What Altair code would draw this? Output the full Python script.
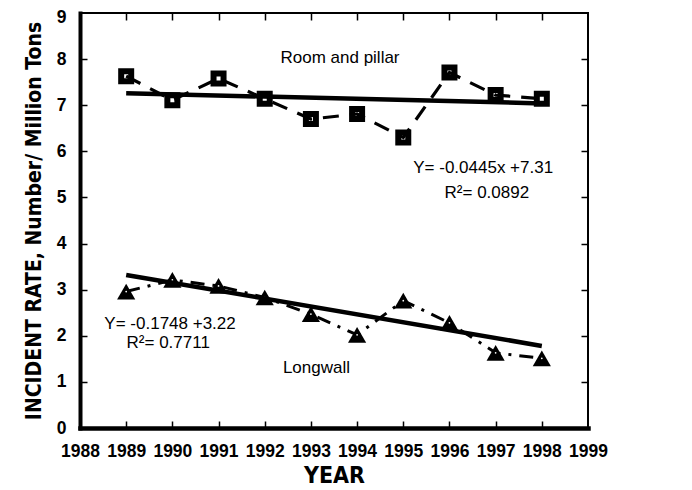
import altair as alt
import pandas as pd

# ---- data ----
years = [1989, 1990, 1991, 1992, 1993, 1994, 1995, 1996, 1997, 1998]
room_rate = [7.63, 7.11, 7.58, 7.14, 6.70, 6.81, 6.30, 7.71, 7.22, 7.14]
longwall_rate = [2.96, 3.21, 3.08, 2.83, 2.47, 2.02, 2.76, 2.28, 1.63, 1.51]

trend_years = [1989, 1998]
room_trend = [7.26, 7.04]
longwall_trend = [3.32, 1.78]

x_labels = list(range(1988, 2000))
y_labels = list(range(0, 10))
x_tick_marks = list(range(1989, 1999))
y_tick_marks = list(range(1, 9))

note_text = ["Room and pillar", "Y= -0.0445x +7.31", "R²= 0.0892",
             "Y= -0.1748 +3.22", "R²= 0.7711", "Longwall"]
note_x = [1993.63, 1996.73, 1996.81, 1989.95, 1989.91, 1993.12]
note_y = [8.03, 5.64, 5.10, 2.25, 1.85, 1.30]

FONT_TICK = "Liberation Sans, Arial, sans-serif"
FONT_TITLE = "DejaVu Sans Condensed, Liberation Sans, sans-serif"
FONT_TXT = "Liberation Sans, Arial, sans-serif"

room_df = pd.DataFrame({"year": years, "rate": room_rate})
lw_df = pd.DataFrame({"year": years, "rate": longwall_rate})
room_tr = pd.DataFrame({"year": trend_years, "rate": room_trend})
lw_tr = pd.DataFrame({"year": trend_years, "rate": longwall_trend})
notes = pd.DataFrame({"label": note_text, "year": note_x, "rate": note_y})

xs = alt.Scale(domain=[1988, 1999], nice=False, zero=False)
ys = alt.Scale(domain=[0, 9], nice=False)

# main axes: labels, titles, heavy domain lines, no ticks
x_bottom = alt.Axis(values=x_labels, format="d", title="YEAR", orient="bottom",
                    labelFont=FONT_TICK, labelFontSize=17.5, labelFontWeight="bold",
                    labelColor="black", labelPadding=14, labelOverlap=False,
                    labelFlush=False, labelBound=False, ticks=False,
                    domainColor="black", domainWidth=4.5, domainCap="square",
                    grid=False, titleFont=FONT_TITLE, titleFontSize=23,
                    titleFontWeight="bold", titleColor="black", titlePadding=5)
y_left = alt.Axis(values=y_labels, format="d",
                  title="INCIDENT RATE, Number/ Million Tons", orient="left",
                  labelFont=FONT_TICK, labelFontSize=17.5, labelFontWeight="bold",
                  labelColor="black", labelPadding=14, labelOverlap=False,
                  labelFlush=False, labelBound=False, ticks=False,
                  labelOffset={"expr": "datum.value == 9 ? 4 : 0"},
                  domainColor="black", domainWidth=4, domainCap="square", grid=False,
                  titleFont=FONT_TITLE, titleFontSize=21, titleFontWeight="bold",
                  titleColor="black", titlePadding=12)


def tick_axis(orient, vals):
    # ticks pointing into the plot: axis shifted inwards by the tick length
    return alt.Axis(values=vals, orient=orient, labels=False, title=None,
                    domain=False, ticks=True, tickSize=7, offset=-7,
                    tickColor="black", tickWidth=1.5, grid=False)


room_line = alt.Chart(room_df).mark_line(color="black", strokeWidth=3.2,
                                         strokeDash=[16, 11]).encode(
    x=alt.X("year:Q", scale=xs, axis=x_bottom),
    y=alt.Y("rate:Q", scale=ys, axis=y_left),
)
lw_line = alt.Chart(lw_df).mark_line(color="black", strokeWidth=3,
                                     strokeDash=[14, 8, 3, 8]).encode(
    x=alt.X("year:Q", scale=xs, axis=None),
    y=alt.Y("rate:Q", scale=ys, axis=None),
)
room_pts = alt.Chart(room_df).mark_point(shape="square", filled=False, size=100,
                                         strokeWidth=6, color="black",
                                         opacity=1).encode(
    x=alt.X("year:Q", scale=xs, axis=None),
    y=alt.Y("rate:Q", scale=ys, axis=None),
)
lw_pts = alt.Chart(lw_df).mark_point(shape="triangle-up", filled=True, size=330,
                                     color="black", opacity=1).encode(
    x=alt.X("year:Q", scale=xs, axis=None),
    y=alt.Y("rate:Q", scale=ys, axis=None),
)
lw_dots = alt.Chart(lw_df).mark_point(shape="circle", filled=True, size=3,
                                      color="white", opacity=1).encode(
    x=alt.X("year:Q", scale=xs, axis=None),
    y=alt.Y("rate:Q", scale=ys, axis=None),
)
room_trend_line = alt.Chart(room_tr).mark_line(color="black", strokeWidth=4.5).encode(
    x=alt.X("year:Q", scale=xs, axis=tick_axis("bottom", x_tick_marks)),
    y=alt.Y("rate:Q", scale=ys, axis=tick_axis("left", y_tick_marks)),
)
lw_trend_line = alt.Chart(lw_tr).mark_line(color="black", strokeWidth=4.5).encode(
    x=alt.X("year:Q", scale=xs, axis=tick_axis("top", x_tick_marks)),
    y=alt.Y("rate:Q", scale=ys, axis=tick_axis("right", y_tick_marks)),
)
labels = alt.Chart(notes).mark_text(font=FONT_TXT, fontSize=17, color="black",
                                    align="center", baseline="middle").encode(
    x=alt.X("year:Q", scale=xs, axis=None),
    y=alt.Y("rate:Q", scale=ys, axis=None),
    text="label:N",
)

chart = alt.layer(
    room_line, lw_line, room_pts, lw_pts, lw_dots,
    room_trend_line, lw_trend_line, labels,
).resolve_axis(x="independent", y="independent").properties(
    width=508, height=415,
    autosize=alt.AutoSizeParams(type="none"),
    padding={"left": 72, "top": 5, "right": 30, "bottom": 62},
    background="white",
).configure_view(stroke="black", strokeWidth=2)

chart.save("out.html", embed_options={"renderer": "svg", "actions": False})
